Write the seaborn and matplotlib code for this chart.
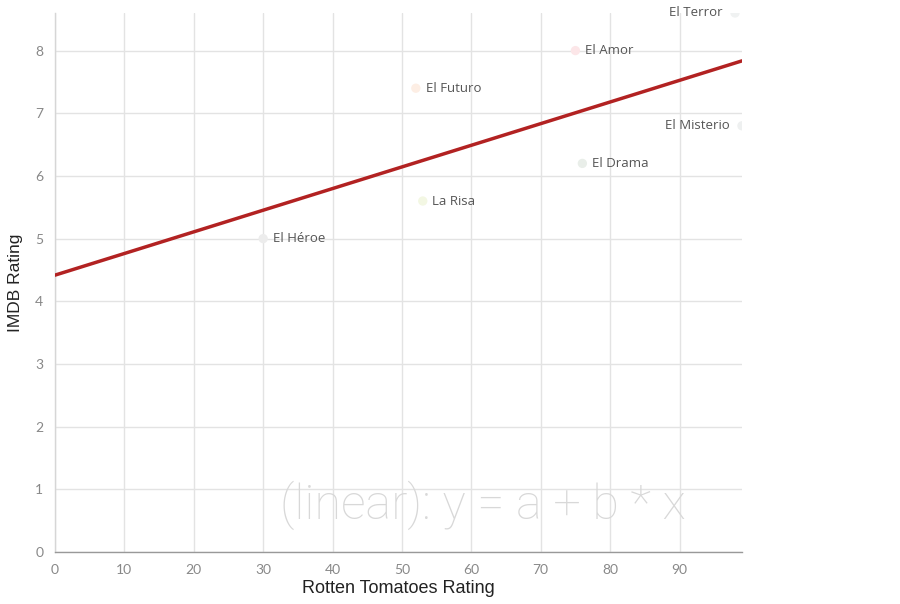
import pandas as pd
import seaborn as sns
import matplotlib.pyplot as plt

# movie ratings
movies = ["El Terror", "El Amor", "El Futuro", "El Misterio", "El Drama", "La Risa", "El Héroe"]
rotten = [98, 75, 52, 99, 76, 53, 30]
imdb = [8.6, 8.0, 7.4, 6.8, 6.2, 5.6, 5.0]
dot_colors = ["#f0f2f2", "#fce6e8", "#fdeee4", "#eef0f0", "#e9eee9", "#f3f7e3", "#ececec"]

df = pd.DataFrame({"movie": movies, "rotten": rotten, "imdb": imdb})

sns.set_theme(style="whitegrid")
fig = plt.figure(figsize=(9, 6.04), dpi=100)
ax = fig.add_axes([0.0611, 0.0861, 0.7633, 0.8924])
ax.set_xlim(0, 99)
ax.set_ylim(0, 8.6)

sns.scatterplot(ax=ax, data=df, x="rotten", y="imdb", hue="movie",
                palette=dot_colors, s=45, edgecolor="none", legend=False, zorder=3)
sns.regplot(ax=ax, data=df, x="rotten", y="imdb", scatter=False, ci=None,
            truncate=False, color="#b22222", line_kws={"linewidth": 2.5, "zorder": 4})

for m, x, y in zip(movies, rotten, imdb):
    if x > 95:
        ax.annotate(m, (x, y), xytext=(-9, 0), textcoords="offset points",
                    ha="right", va="center", fontsize=9.5, color="#555555",
                    family="Open Sans", zorder=5, annotation_clip=False)
    else:
        ax.annotate(m, (x, y), xytext=(7, 0), textcoords="offset points",
                    ha="left", va="center", fontsize=9.5, color="#555555",
                    family="Open Sans", zorder=5)

ax.text(0.623, 0.087, "(linear): y = a + b * x", transform=ax.transAxes,
        ha="center", va="center", fontsize=35, color="#d8d8d8",
        family="Roboto", fontweight="light", zorder=2)

ax.set_xticks(range(0, 100, 10))
ax.set_yticks(range(0, 9))
ax.tick_params(axis="both", colors="#888888", labelsize=10, length=5, width=0.8)
ax.tick_params(axis="both", labelcolor="#888888")
for lab in ax.get_xticklabels() + ax.get_yticklabels():
    lab.set_family("Lato")
ax.grid(True, color="#e3e3e3", linewidth=1)
for side in ["top", "right"]:
    ax.spines[side].set_visible(False)
ax.spines["left"].set_color("#d6d6d6")
ax.spines["bottom"].set_color("#999999")
ax.spines["left"].set_linewidth(1)
ax.spines["bottom"].set_linewidth(1)

ax.set_xlabel("Rotten Tomatoes Rating", fontsize=13, color="#222222",
              family="Liberation Sans", labelpad=3)
ax.set_ylabel("IMDB Rating", fontsize=12.5, color="#222222",
              family="Liberation Sans", labelpad=9)

plt.savefig("out.png", dpi=100)
